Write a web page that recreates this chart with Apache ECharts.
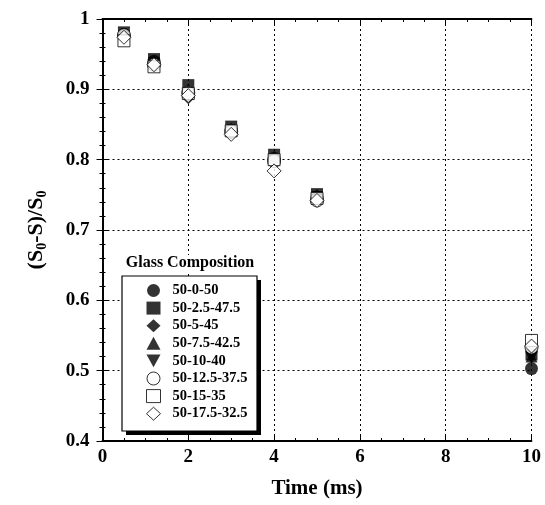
<!DOCTYPE html>
<html><head><meta charset="utf-8">
<script src="https://cdn.jsdelivr.net/npm/echarts@6/dist/echarts.min.js"></script>
<style>html,body{margin:0;padding:0;background:#fff}#c{width:545px;height:505px}</style>
</head><body><div id="c"></div>
<script>
const times = [0.5, 1.2, 2, 3, 4, 5, 10];
const names = ['50-0-50','50-2.5-47.5','50-5-45','50-7.5-42.5','50-10-40','50-12.5-37.5','50-15-35','50-17.5-32.5'];
const s1 = [0.978, 0.940, 0.895, 0.842, 0.802, 0.747, 0.503];
const s2 = [0.981, 0.943, 0.906, 0.847, 0.807, 0.751, 0.523];
const s3 = [0.976, 0.938, 0.888, 0.838, 0.800, 0.745, 0.527];
const s4 = [0.979, 0.941, 0.900, 0.844, 0.805, 0.750, 0.520];
const s5 = [0.975, 0.937, 0.892, 0.840, 0.800, 0.747, 0.518];
const s6 = [0.977, 0.935, 0.895, 0.840, 0.798, 0.742, 0.533];
const s7 = [0.969, 0.932, 0.894, 0.841, 0.800, 0.745, 0.543];
const s8 = [0.974, 0.935, 0.891, 0.836, 0.784, 0.742, 0.535];
const xTicks = [0, 2, 4, 6, 8, 10];
const yTicks = [0.4, 0.5, 0.6, 0.7, 0.8, 0.9, 1];

const allVals = [s1,s2,s3,s4,s5,s6,s7,s8];
const downTri = 'path://M0,0 L10,0 L5,9 Z';
const symbols = ['circle','rect','diamond','triangle',downTri,'circle','rect','diamond'];
const sizes = [13,12,13,12,12,13,12,14];
const filled = [true,true,true,true,true,false,false,false];
const font = 'Liberation Serif';

const series = allVals.map((vals, i) => ({
  name: names[i], type: 'scatter',
  data: vals.map((v, j) => [times[j], v]),
  symbol: symbols[i], symbolSize: sizes[i],
  itemStyle: filled[i] ? {color:'#000'} : {color:'#fff', borderColor:'#000', borderWidth:1},
  z: 3 + i
}));

function axisCommon(extra){
  return Object.assign({
    axisLine:{show:true, lineStyle:{color:'#000', width:1.8}},
    axisTick:{show:true, inside:true, length:6, lineStyle:{color:'#000', width:1}},
  }, extra);
}
const chart = echarts.init(document.getElementById('c'));
chart.setOption({
  animation:false,
  grid:{left:102.5, right:13.5, top:19, bottom:64},
  xAxis:[
    axisCommon({type:'value', min:xTicks[0], max:xTicks[xTicks.length-1], interval:2,
      minorTick:{show:true, splitNumber:4, length:3, lineStyle:{color:'#000'}},
      splitLine:{show:true, lineStyle:{type:[2,3], color:'#000', width:1}},
      axisLabel:{fontFamily:font, fontWeight:'bold', fontSize:19, color:'#000', margin:7},
      name:'Time (ms)', nameLocation:'middle', nameGap:37,
      nameTextStyle:{fontFamily:font, fontWeight:'bold', fontSize:21, color:'#000'}}),
    axisCommon({type:'value', position:'top', min:0, max:10, interval:2,
      minorTick:{show:true, splitNumber:4, length:3, lineStyle:{color:'#000'}},
      axisLabel:{show:false}, splitLine:{show:false}})
  ],
  yAxis:[
    axisCommon({type:'value', min:yTicks[0], max:yTicks[yTicks.length-1], interval:0.1,
      minorTick:{show:true, splitNumber:5, length:3, lineStyle:{color:'#000'}},
      splitLine:{show:true, lineStyle:{type:[2,3], color:'#000', width:1}},
      axisLabel:{fontFamily:font, fontWeight:'bold', fontSize:19, color:'#000', margin:13,
        formatter:v => Math.abs(v-1)<1e-9 ? '1' : v.toFixed(1)},
      name:'{a|(S}{s|0}{a|-S)/S}{s|0}', nameLocation:'middle', nameGap:53,
      nameTextStyle:{rich:{a:{fontFamily:font, fontWeight:'bold', fontSize:22, color:'#000'},
        s:{fontFamily:font, fontWeight:'bold', fontSize:14, color:'#000', verticalAlign:'bottom', padding:[12,0,0,0]}}}}),
    axisCommon({type:'value', position:'right', min:0.4, max:1, interval:0.1,
      minorTick:{show:true, splitNumber:5, length:3, lineStyle:{color:'#000'}},
      axisLabel:{show:false}, splitLine:{show:false}})
  ],
  legend:{
    orient:'vertical', left:146, top:283, itemWidth:14, itemHeight:13, itemGap:2.6, padding:0,
    textStyle:{fontFamily:font, fontWeight:'bold', fontSize:14.5, lineHeight:14, height:14, color:'#000', padding:[0,0,0,7]},
    data: names.map((n,i)=>({name:n, icon:symbols[i], itemStyle: filled[i]?{color:'#000'}:{color:'#fff',borderColor:'#000',borderWidth:1}})),
    z:20
  },
  graphic:[
    {type:'rect', shape:{x:126, y:280, width:135, height:155}, z:9, style:{fill:'#000'}},
    {type:'rect', shape:{x:122, y:276, width:135, height:155}, z:10,
      style:{fill:'#fff', stroke:'#000', lineWidth:1.2}},
    {type:'text', x:190, y:263, z:10, style:{text:'Glass Composition', fontFamily:font, fontWeight:'bold', fontSize:16,
      fill:'#000', align:'center', verticalAlign:'middle', backgroundColor:'#fff'}}
  ],
  series
});
</script></body></html>
